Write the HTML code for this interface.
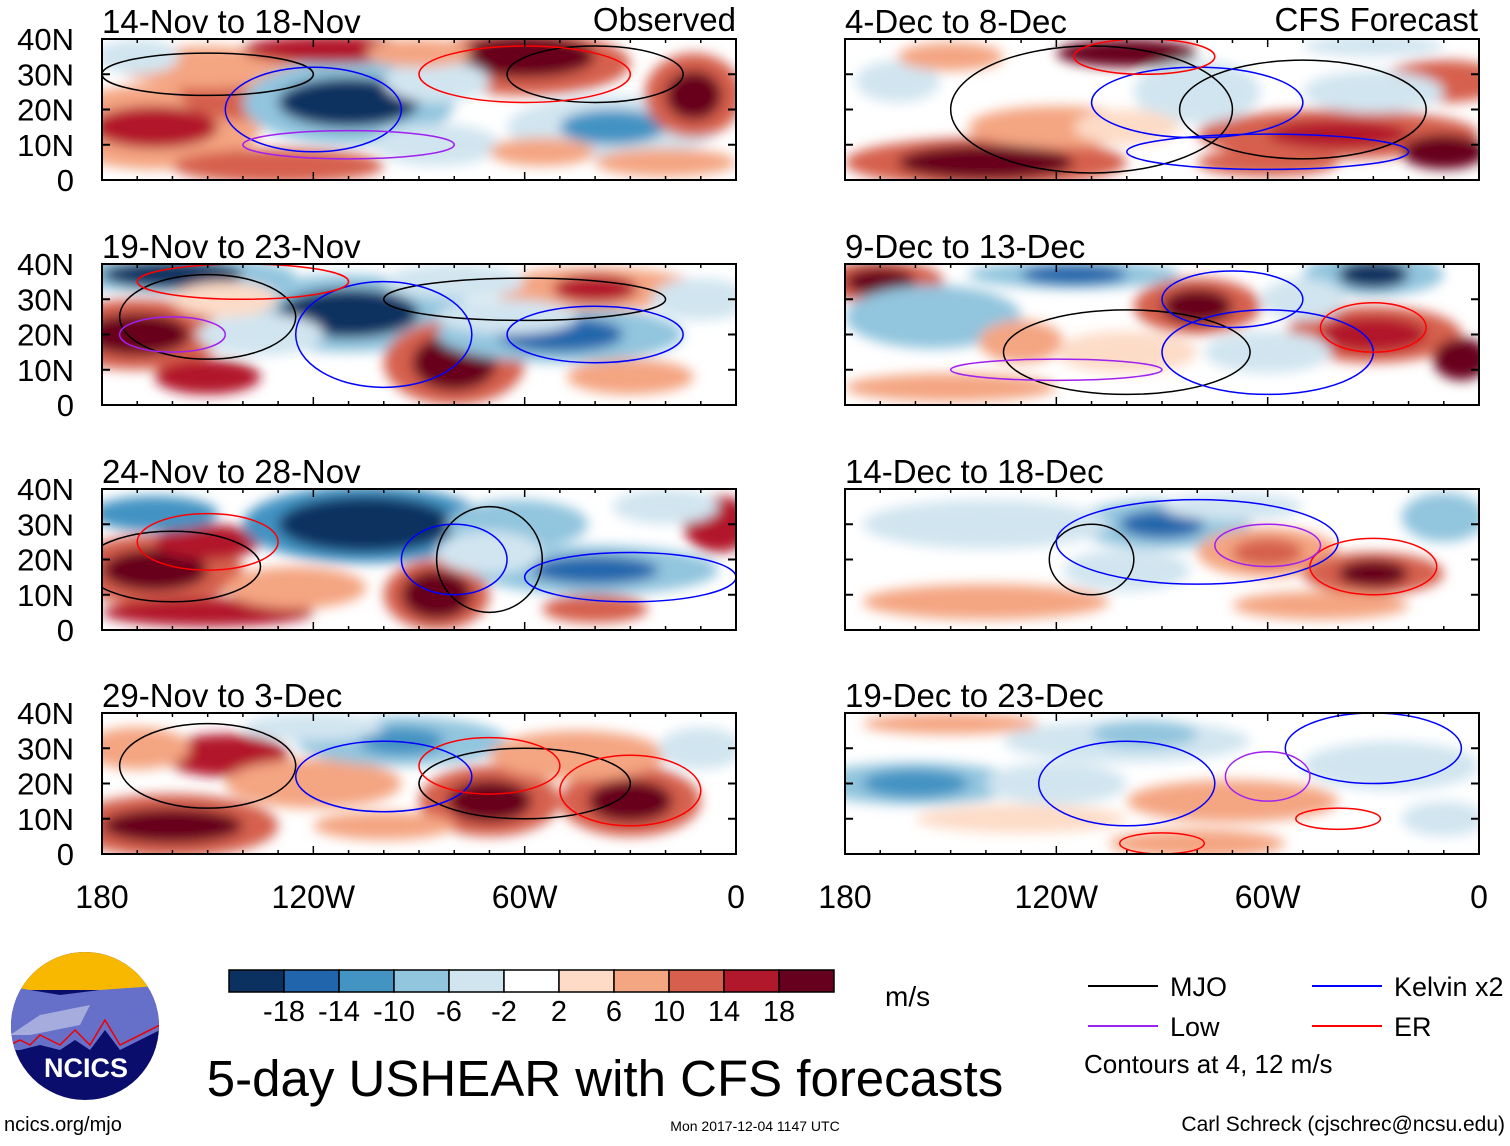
<!DOCTYPE html>
<html><head><meta charset="utf-8"><style>
body{margin:0;background:#fff;width:1510px;height:1141px;overflow:hidden;font-family:"Liberation Sans",sans-serif}
svg text{font-family:"Liberation Sans",sans-serif}
</style></head><body>
<svg id="chart" width="1510" height="1141" xmlns="http://www.w3.org/2000/svg">
<defs><filter id="blur" x="-30%" y="-30%" width="160%" height="160%"><feGaussianBlur stdDeviation="6"/></filter></defs>
<g id="panels"></g>
<g id="legend"></g>
</svg>
<script>
const titles=["14-Nov to 18-Nov","19-Nov to 23-Nov","24-Nov to 28-Nov","29-Nov to 3-Dec","4-Dec to 8-Dec","9-Dec to 13-Dec","14-Dec to 18-Dec","19-Dec to 23-Dec"];
const latTicks=["40N","30N","20N","10N","0"];
const lonTicks=["180","120W","60W","0"];
const cbLabels=["-18","-14","-10","-6","-2","2","6","10","14","18"];
const cbColors=["#0b3160","#2166ac","#4393c3","#92c5de","#d1e5f0","#ffffff","#fddbc7","#f4a582","#d6604d","#b2182b","#67001f"];
// blobs per panel: [lonW, lat, shear m/s, rxDeg, ryDeg]
const blobs0=[[165,15,8,30,12],[165,15,16,18,6],[140,25,12,18,8],[150,32,6,25,6],[110,22,-8,30,12],[110,22,-20,20,7],[60,33,10,30,9],[60,35,20,20,6],[115,37,14,25,4],[35,15,-6,30,9],[35,15,-12,15,5],[12,24,10,14,12],[12,24,18,8,7],[130,4,10,30,5],[85,10,-4,18,6],[170,35,-6,12,5],[85,28,-4,15,6],[90,36,8,15,4],[55,8,6,15,4],[20,5,6,20,4]];
const blobs1=[[170,20,10,25,10],[170,20,20,15,6],[150,8,16,15,5],[160,37,-10,35,5],[160,37,-22,20,4],[110,26,-10,35,11],[110,26,-20,20,7],[80,12,10,20,12],[80,12,20,12,8],[50,20,-8,35,8],[50,20,-16,18,5],[40,33,8,30,6],[40,33,16,12,4],[135,20,-6,18,6],[80,35,-6,20,5],[30,8,8,18,5],[10,30,-6,14,6],[65,25,-4,20,5],[145,30,4,15,5]];
const blobs2=[[165,17,10,25,10],[165,17,20,15,6],[150,5,16,30,4],[150,25,14,15,5],[105,30,-12,35,11],[105,30,-22,25,8],[165,33,-12,18,5],[85,10,10,15,10],[85,10,20,10,7],[40,17,-8,35,7],[40,17,-16,18,4],[40,6,12,15,4],[62,30,-8,20,7],[5,30,16,10,8],[70,22,-6,15,6],[125,12,6,20,6],[20,35,-4,15,5]];
const blobs3=[[160,8,10,30,9],[160,8,20,20,5],[145,28,14,18,6],[120,20,8,25,7],[95,32,-8,30,7],[95,32,-14,12,4],[70,15,10,20,10],[70,15,20,12,6],[30,15,10,20,10],[30,15,20,12,6],[45,28,8,25,7],[120,36,-6,20,4],[170,30,8,15,6],[10,30,-6,12,6],[100,8,6,20,4]];
const blobs4=[[140,5,10,40,7],[140,5,22,25,5],[100,36,20,20,4],[40,13,10,40,7],[40,13,16,20,4],[10,8,22,12,5],[10,28,10,18,6],[30,25,-6,20,6],[80,25,-6,18,9],[165,28,-6,12,6],[120,15,6,25,6],[60,5,10,20,4],[150,35,6,15,4],[30,38,-4,20,3],[100,15,4,15,5]];
const blobs5=[[170,35,12,18,6],[170,35,22,10,4],[115,37,-10,30,4],[115,37,-16,15,3],[80,28,10,18,8],[80,28,20,10,5],[30,37,-10,20,6],[30,37,-20,10,4],[30,20,10,25,8],[30,20,16,15,5],[155,25,-8,25,9],[130,18,8,12,6],[150,5,8,30,4],[5,13,18,8,6],[60,15,-4,18,6],[100,15,4,20,6],[50,30,-6,12,6]];
const blobs6=[[90,30,-8,25,7],[90,30,-16,12,4],[60,22,8,20,7],[60,22,12,10,4],[30,16,10,20,6],[30,16,20,10,4],[140,30,-6,35,7],[140,8,8,35,5],[100,17,-4,18,6],[10,32,-8,12,7],[45,7,6,25,4],[70,35,-4,20,4]];
const blobs7=[[160,20,-8,30,6],[160,20,-14,15,4],[100,32,-6,35,6],[95,34,-10,15,4],[70,15,6,30,6],[130,10,4,30,4],[25,25,-6,25,7],[150,37,8,25,3],[80,3,8,25,4],[10,10,-6,12,5],[120,20,-4,20,6]];
const blobSets=[blobs0,blobs1,blobs2,blobs3,blobs4,blobs5,blobs6,blobs7];
// contours: [lonW, lat, rxDeg, ryDeg, type]
const conts0=[[150,30,30,6,"mjo"],[40,30,25,8,"mjo"],[120,20,25,12,"kel"],[110,10,30,4,"low"],[60,30,30,8,"er"]];
const conts1=[[150,25,25,12,"mjo"],[60,30,40,6,"mjo"],[100,20,25,15,"kel"],[40,20,25,8,"kel"],[160,20,15,5,"low"],[140,35,30,5,"er"]];
const conts2=[[160,18,25,10,"mjo"],[70,20,15,15,"mjo"],[150,25,20,8,"er"],[80,20,15,10,"kel"],[30,15,30,7,"kel"]];
const conts3=[[150,25,25,12,"mjo"],[60,20,30,10,"mjo"],[100,22,25,10,"kel"],[30,18,20,10,"er"],[70,25,20,8,"er"]];
const conts4=[[110,20,40,18,"mjo"],[50,20,35,14,"mjo"],[80,22,30,10,"kel"],[60,8,40,5,"kel"],[95,35,20,5,"er"]];
const conts5=[[100,15,35,12,"mjo"],[60,15,30,12,"kel"],[70,30,20,8,"kel"],[30,22,15,7,"er"],[120,10,30,3,"low"]];
const conts6=[[110,20,12,10,"mjo"],[80,25,40,12,"kel"],[30,18,18,8,"er"],[60,24,15,6,"low"]];
const conts7=[[100,20,25,12,"kel"],[30,30,25,10,"kel"],[60,22,12,7,"low"],[40,10,12,3,"er"],[90,3,12,3,"er"]];
const contSets=[conts0,conts1,conts2,conts3,conts4,conts5,conts6,conts7];
const contColor={mjo:"#000",kel:"#0000ff",low:"#a020f0",er:"#ff0000"};
const NS="http://www.w3.org/2000/svg";
function mk(tag,attrs,parent){const e=document.createElementNS(NS,tag);for(const k in attrs)e.setAttribute(k,attrs[k]);if(parent)parent.appendChild(e);return e;}
function colorOf(v){const i=Math.max(0,Math.min(10,Math.floor((v+22)/4)));return cbColors[i];}
const colX=[102,845],rowY=[39,264,489,713],PW=634,PH=141;
const panels=document.getElementById('panels');
for(let p=0;p<8;p++){
  const x0=colX[p<4?0:1],y0=rowY[p%4];
  const xs=w=>x0+(180-w)/180*PW, ys=l=>y0+PH-l/40*PH, sx=d=>d/180*PW, sy=d=>d/40*PH;
  const g=mk('g',{},panels);
  
  
  mk('clipPath',{id:'cp'+p},g).appendChild(mk('rect',{x:x0,y:y0,width:PW,height:PH}));
  const f=mk('g',{'clip-path':'url(#cp'+p+')'},g);
  const fb=mk('g',{filter:'url(#blur)'},f);
  blobSets[p].forEach(b=>{
    const e=mk('ellipse',{cx:xs(b[0]),cy:ys(b[1]),rx:sx(b[3]),ry:sy(b[4]),fill:colorOf(b[2])},fb);
    
    
  });
  contSets[p].forEach(c=>{
    const e=mk('ellipse',{cx:xs(c[0]),cy:ys(c[1]),rx:sx(c[2]),ry:sy(c[3]),fill:'none',stroke:contColor[c[4]],'stroke-width':1.5},f);
    
    
  });
  mk('rect',{x:x0,y:y0,width:PW,height:PH,fill:'none',stroke:'#000','stroke-width':2},g);
  for(let l=0;l<=40;l+=10){const y=ys(l);mk('line',{x1:x0,x2:x0+8,y1:y,y2:y,stroke:'#000','stroke-width':2},g);mk('line',{x1:x0+PW-8,x2:x0+PW,y1:y,y2:y,stroke:'#000','stroke-width':2},g);}
  for(let w=180;w>=0;w-=10){const x=xs(w),L=(w%60==0)?8:4;mk('line',{x1:x,x2:x,y1:y0+PH,y2:y0+PH-L,stroke:'#000','stroke-width':1.5},g);mk('line',{x1:x,x2:x,y1:y0,y2:y0+L,stroke:'#000','stroke-width':1.5},g);}
  const t=mk('text',{x:x0,y:y0-6,'font-size':33},g);t.textContent=titles[p];
  
  
  if(p<4){latTicks.forEach((s,i)=>{const tt=mk('text',{x:74,y:y0+i*PH/4+11,'font-size':31,'text-anchor':'end'},g);tt.textContent=s;
    
    });}
}
const lg=document.getElementById('legend');
function txt(s,x,y,fs,anchor,name){const t=mk('text',{x:x,y:y,'font-size':fs,'text-anchor':anchor||'start'},lg);t.textContent=s;
  
  return t;}
txt("Observed",736,31,33,'end','observed-label');
txt("CFS Forecast",1478,31,33,'end','forecast-label');
[0,1].forEach(c=>lonTicks.forEach((s,i)=>txt(s,colX[c]+i*PW/3,908,32,'middle','lon-tick-label')));
cbColors.forEach((c,i)=>{const r=mk('rect',{x:229+i*55,y:970,width:55,height:22,fill:c,stroke:'#000','stroke-width':1.5},lg);
  
  });
cbLabels.forEach((s,i)=>txt(s,284+i*55,1021,29,'middle','colorbar-label'));
txt("m/s",885,1006,28,'start','units-label');
txt("5-day USHEAR with CFS forecasts",605,1096,51,'middle','main-title');
[["MJO","#000",1088,986],["Kelvin x2","#0000ff",1312,986],["Low","#a020f0",1088,1026],["ER","#ff0000",1312,1026]].forEach(a=>{
  mk('line',{x1:a[2],x2:a[2]+70,y1:a[3],y2:a[3],stroke:a[1],'stroke-width':2},lg);
  txt(a[0],a[2]+82,a[3]+10,27,'start','legend-entry');
});
txt("Contours at 4, 12 m/s",1084,1073,26,'start','contour-note');
txt("ncics.org/mjo",4,1131,20,'start','url-label');
txt("Mon 2017-12-04 1147 UTC",755,1131,14,'middle','timestamp');
txt("Carl Schreck (cjschrec@ncsu.edu)",1505,1131,21,'end','author-label');
const logo=mk('g',{},lg);
mk('clipPath',{id:'lc'},logo).appendChild(mk('circle',{cx:85,cy:1026,r:74}));
const lgc=mk('g',{'clip-path':'url(#lc)'},logo);
mk('rect',{x:0,y:950,width:170,height:160,fill:'#0a0d6b'},lgc);
mk('rect',{x:0,y:950,width:170,height:40,fill:'#f8b800'},lgc);
mk('path',{d:'M0 985 L60 995 L100 990 L170 985 L170 1025 L120 1050 L105 1030 L90 1050 L75 1040 L60 1050 L40 1045 L20 1050 L0 1050 Z',fill:'#6670c8'},lgc);
mk('path',{d:'M10 1035 L40 1015 L90 1005 L80 1025 L30 1035 Z',fill:'#a6acde'},lgc);
mk('path',{d:'M0 1050 L20 1040 L30 1045 L40 1035 L60 1045 L75 1030 L90 1045 L105 1020 L120 1045 L170 1020',fill:'none',stroke:'#e00','stroke-width':1.5},lgc);
const lt=mk('text',{x:86,y:1077,'font-size':27,'font-weight':'bold',fill:'#fff','text-anchor':'middle'},logo);lt.textContent="NCICS";
</script>
</body></html>
